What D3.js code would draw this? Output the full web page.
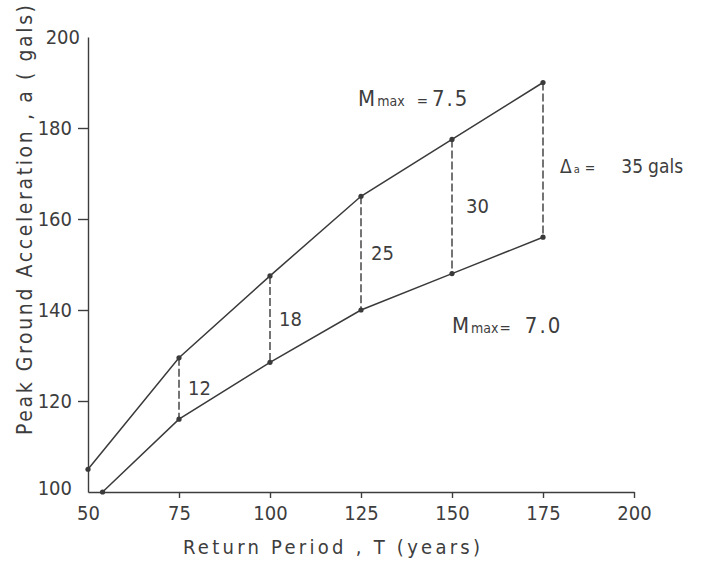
<!DOCTYPE html>
<html>
<head>
<meta charset="utf-8">
<script src="https://cdn.jsdelivr.net/npm/d3@7"></script>
<style>
  body { margin: 0; background: #fff; }
  svg text { font-family: "Liberation Sans Narrow", "DejaVu Sans Condensed", "Liberation Sans", sans-serif; fill: #3d3d3d; }
  .axis path, .axis line { stroke: #3d3d3d; stroke-width: 1.4; }
</style>
</head>
<body>
<svg id="chart" width="705" height="565"></svg>
<script>
'use strict';

// return periods (years) and peak ground acceleration (gals)
const periodsHigh = [50, 75, 100, 125, 150, 175];
const accelHigh   = [105, 129.5, 147.5, 165, 177.5, 190];   // Mmax = 7.5
const periodsLow  = [54, 75, 100, 125, 150, 175];
const accelLow    = [100, 116, 128.5, 140, 148, 156];       // Mmax = 7.0

// differences marked between the two curves
const diffPeriods = [75, 100, 125, 150, 175];
const diffLabels  = ['12', '18', '25', '30', '35'];

const xTicks = [50, 75, 100, 125, 150, 175, 200];
const yTicks = [100, 120, 140, 160, 180, 200];

const svg = d3.select('#chart');
const ink = '#3a3a3a';

// scales, pixel range
const x = d3.scaleLinear().domain([50, 200]).range([88, 634]);
const y = d3.scaleLinear().domain([100, 200]).range([492, 37]);

// axes
const xAxis = d3.axisBottom(x).tickValues(xTicks).tickSize(6).tickSizeOuter(0).tickPadding(8);
const yAxis = d3.axisLeft(y).tickValues(yTicks).tickSize(10).tickSizeOuter(0).tickPadding(6);

const gx = svg.append('g')
   .attr('class', 'axis')
   .attr('transform', `translate(0, ${y(100)})`)
   .call(xAxis);

const gy = svg.append('g')
   .attr('class', 'axis')
   .attr('transform', `translate(${x(50)}, 0)`)
   .call(yAxis);

[gx, gy].forEach(g => {
  g.selectAll('text').style('font-size', '20px').attr('fill', ink);
});
// no tick marks at the corner or at the top of the y axis
gx.selectAll('.tick').filter(d => d === 50).select('line').remove();
gy.selectAll('.tick').filter(d => d === 100 || d === 200).select('line').remove();
gy.selectAll('.tick').filter(d => d === 100).select('text').attr('dy', '0.1em');
gy.selectAll('.tick').filter(d => d === 200).select('text').attr('x', -8);

// axis titles
svg.append('text')
   .attr('x', 183).attr('y', 554)
   .attr('textLength', 297).attr('lengthAdjust', 'spacing')
   .style('font-size', '20px')
   .text('Return Period , T (years)');

svg.append('text')
   .attr('transform', 'translate(32, 435) rotate(-90)')
   .attr('textLength', 430).attr('lengthAdjust', 'spacing')
   .style('font-size', '21px')
   .text('Peak Ground Acceleration , a ( gals)');

// curves
const high = periodsHigh.map((t, i) => [t, accelHigh[i]]);
const low  = periodsLow.map((t, i) => [t, accelLow[i]]);
const line = d3.line().x(d => x(d[0])).y(d => y(d[1]));

[high, low].forEach(series => {
  svg.append('path')
     .datum(series)
     .attr('d', line)
     .attr('fill', 'none')
     .attr('stroke', ink)
     .attr('stroke-width', 1.5);
});

// dashed connectors between the curves
const pairs = diffPeriods.map((t, i) => ({
  t: t,
  hi: accelHigh[periodsHigh.indexOf(t)],
  lo: accelLow[periodsLow.indexOf(t)],
  label: diffLabels[i]
}));

svg.selectAll('.gap')
   .data(pairs)
  .enter().append('line')
   .attr('class', 'gap')
   .attr('x1', d => x(d.t)).attr('x2', d => x(d.t))
   .attr('y1', d => y(d.hi)).attr('y2', d => y(d.lo))
   .attr('stroke', ink)
   .attr('stroke-width', 1.4)
   .attr('stroke-dasharray', '8,3');

// points
svg.selectAll('.pt')
   .data(high.concat(low))
  .enter().append('circle')
   .attr('class', 'pt')
   .attr('cx', d => x(d[0]))
   .attr('cy', d => y(d[1]))
   .attr('r', 2.6)
   .attr('fill', ink);

// gap labels (last one is written out in full)
const labelShift = [9, 9, 10, 14];
svg.selectAll('.gapLabel')
   .data(pairs.slice(0, 4))
  .enter().append('text')
   .attr('class', 'gapLabel')
   .attr('x', (d, i) => x(d.t) + labelShift[i])
   .attr('y', d => (y(d.hi) + y(d.lo)) / 2)
   .attr('dy', '0.35em')
   .style('font-size', '20px')
   .text(d => d.label);

const last = pairs[pairs.length - 1];
const delta = svg.append('text')
   .attr('x', x(last.t) + 17)
   .attr('y', 173)
   .style('font-size', '19px');
delta.append('tspan').text('\u0394');
delta.append('tspan').attr('dx', 2).style('font-size', '11px').text('a');
delta.append('tspan').attr('dx', 5).style('font-size', '14px').text('=');
delta.append('tspan').attr('dx', 26).text(last.label);
delta.append('tspan').attr('dx', 5).text('gals');

// curve labels
function magLabel(px, py, value, gapEq, gapVal) {
  const t = svg.append('text').attr('x', px).attr('y', py).style('font-size', '22px');
  t.append('tspan').text('M');
  t.append('tspan').attr('dx', 2).style('font-size', '14px').text('max');
  t.append('tspan').attr('dx', gapEq).style('font-size', '15px').text('=');
  t.append('tspan').attr('dx', gapVal).style('letter-spacing', '2px').text(value);
}
magLabel(x(124.2), 106, '7.5', 12, 4);
magLabel(x(150), 333, '7.0', 1, 14);
</script>
</body>
</html>
